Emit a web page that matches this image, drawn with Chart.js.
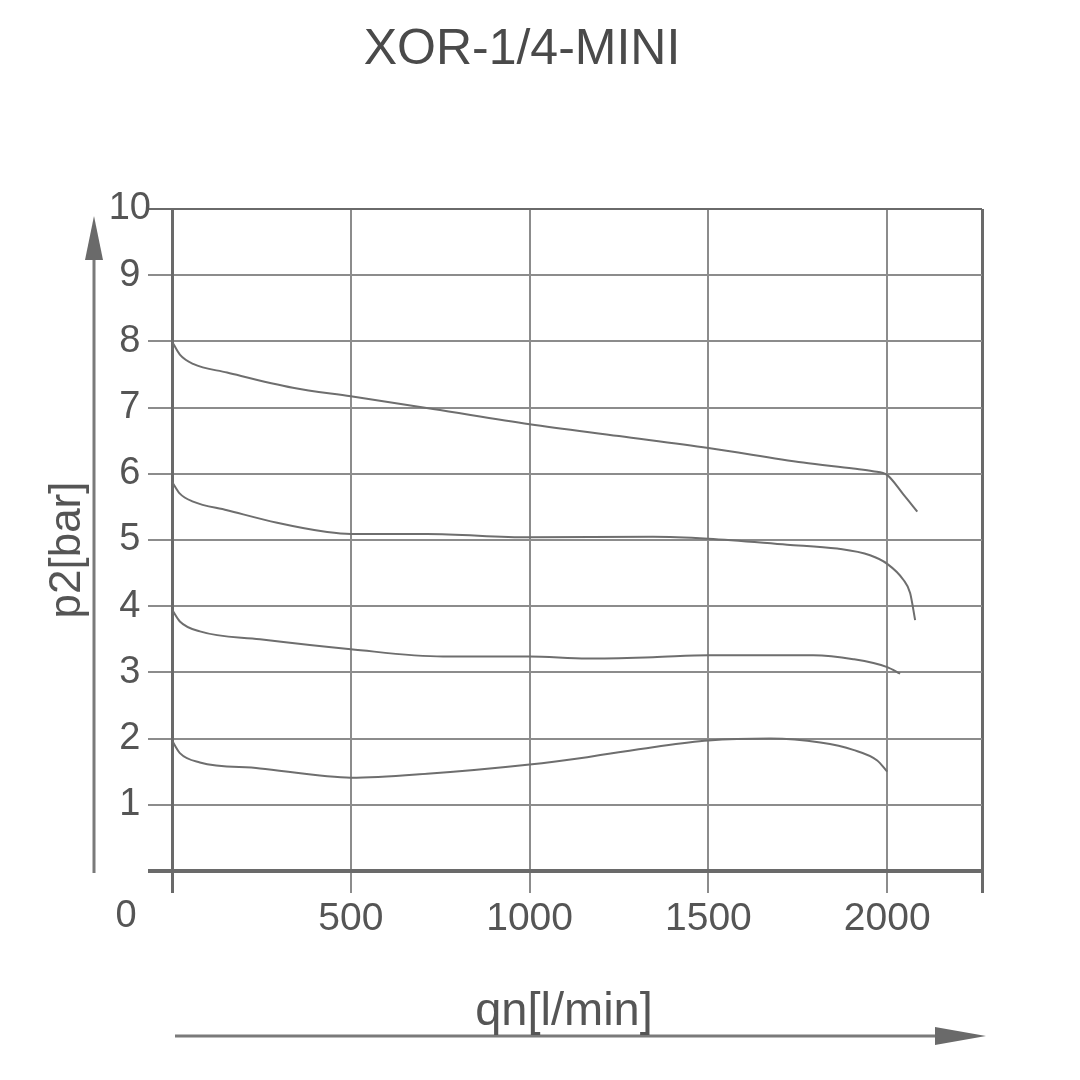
<!DOCTYPE html>
<html>
<head>
<meta charset="utf-8">
<script src="https://cdn.jsdelivr.net/npm/chart.js@4/dist/chart.umd.min.js"></script>
<style>
html,body{margin:0;padding:0;background:#fff;}
canvas{display:block;}
</style>
</head>
<body>
<canvas id="c" width="1080" height="1080"></canvas>
<script>
// ---- data ----
const chartTitle = "XOR-1/4-MINI";
const xAxisTitle = "qn[l/min]";
const yAxisTitle = "p2[bar]";
const xTickValues = [0, 500, 1000, 1500, 2000];
const xMax = 2265;
const yTickValues = [0, 1, 2, 3, 4, 5, 6, 7, 8, 9, 10];

const qn8 = [0, 22, 59, 154, 338, 500, 730, 1000, 1250, 1500, 1765, 1905, 1960, 2000, 2045, 2084];
const p2_8 = [8.0, 7.80, 7.66, 7.53, 7.30, 7.17, 6.98, 6.75, 6.57, 6.39, 6.17, 6.08, 6.04, 5.98, 5.69, 5.43];

const qn6 = [0, 22, 59, 154, 294, 434, 500, 713, 1000, 1345, 1500, 1720, 1860, 1952, 2000, 2045, 2064, 2078];
const p2_6 = [5.88, 5.70, 5.58, 5.45, 5.26, 5.12, 5.09, 5.09, 5.04, 5.05, 5.02, 4.93, 4.87, 4.77, 4.64, 4.40, 4.20, 3.79];

const qn4 = [0, 22, 78, 246, 500, 758, 1000, 1161, 1345, 1500, 1793, 1905, 2000, 2036];
const p2_4 = [3.95, 3.77, 3.62, 3.50, 3.35, 3.24, 3.24, 3.21, 3.23, 3.26, 3.26, 3.20, 3.08, 2.98];

const qn2 = [0, 22, 78, 246, 434, 500, 713, 1000, 1161, 1345, 1500, 1673, 1813, 1905, 1972, 2000];
const p2_2 = [1.97, 1.78, 1.64, 1.55, 1.43, 1.41, 1.47, 1.61, 1.72, 1.87, 1.97, 2.00, 1.94, 1.83, 1.67, 1.50];

// ---- styles ----
const FONT = "'Liberation Sans', Arial, sans-serif";
const TEXT = '#555555';
const GRID = '#8c8c8c';
const AXIS = '#6a6a6a';
const CURVE = '#6e6e6e';

function pts(xs, ys){ return xs.map((x,i)=>({x:x, y:ys[i]})); }
function ds(xs, ys){
  return {data: pts(xs, ys), borderColor: CURVE, borderWidth: 2, pointRadius: 0,
          fill: false, cubicInterpolationMode: 'monotone'};
}

const deco = {
  id: 'deco',
  beforeDraw(chart){
    const ctx = chart.ctx;
    ctx.save();
    ctx.fillStyle = '#fff';
    ctx.fillRect(0,0,chart.width,chart.height);
    ctx.restore();
  },
  afterDraw(chart){
    const ctx = chart.ctx;
    ctx.save();
    // title
    ctx.fillStyle = '#4a4a4a';
    ctx.font = "50px " + FONT;
    ctx.textAlign = 'center';
    ctx.textBaseline = 'middle';
    ctx.fillText(chartTitle, 522, 50);
    // origin label
    ctx.fillStyle = TEXT;
    ctx.font = "38px " + FONT;
    ctx.fillText(String(xTickValues[0]), 126, 917);
    // y axis arrow
    ctx.strokeStyle = '#7a7a7a';
    ctx.fillStyle = '#6a6a6a';
    ctx.lineWidth = 3;
    ctx.beginPath(); ctx.moveTo(94, 873); ctx.lineTo(94, 250); ctx.stroke();
    ctx.beginPath(); ctx.moveTo(94, 216); ctx.lineTo(103, 260); ctx.lineTo(85, 260); ctx.closePath(); ctx.fill();
    // x axis arrow
    ctx.beginPath(); ctx.moveTo(175, 1036); ctx.lineTo(945, 1036); ctx.stroke();
    ctx.beginPath(); ctx.moveTo(986, 1036); ctx.lineTo(935, 1027); ctx.lineTo(935, 1045); ctx.closePath(); ctx.fill();
    // axis titles
    ctx.fillStyle = TEXT;
    ctx.textAlign = 'center';
    ctx.textBaseline = 'middle';
    ctx.font = "47px " + FONT;
    ctx.fillText(xAxisTitle, 564, 1012);
    ctx.font = "44px " + FONT;
    ctx.translate(68, 550);
    ctx.rotate(-Math.PI/2);
    ctx.fillText(yAxisTitle, 0, 0);
    ctx.restore();
  }
};

new Chart(document.getElementById('c'), {
  type: 'line',
  data: { datasets: [ds(qn8, p2_8), ds(qn6, p2_6), ds(qn4, p2_4), ds(qn2, p2_2)] },
  options: {
    responsive: false,
    animation: false,
    layout: { padding: { top: 209, right: 98, bottom: 0, left: 0 } },
    plugins: { legend: { display: false }, tooltip: { enabled: false }, title: { display: false } },
    scales: {
      x: {
        type: 'linear', min: 0, max: xMax,
        afterBuildTicks(scale){ scale.ticks = xTickValues.concat([xMax]).map(v=>({value:v})); },
        afterFit(scale){ scale.height = 209; },
        ticks: {
          color: TEXT, font: { size: 39, family: FONT }, padding: 3,
          maxRotation: 0, autoSkip: false,
          callback(v){ return (v === 0 || v === xMax) ? '' : String(v); }
        },
        grid: {
          color: (c)=> (c.tick && (c.tick.value === 0 || c.tick.value === xMax)) ? AXIS : GRID,
          lineWidth: (c)=> (c.tick && (c.tick.value === 0 || c.tick.value === xMax)) ? 3 : 2,
          tickLength: 22, drawTicks: true
        },
        border: { display: true, color: AXIS, width: 4 }
      },
      y: {
        type: 'linear', min: 0, max: 10,
        afterBuildTicks(scale){ scale.ticks = yTickValues.map(v=>({value:v})); },
        afterFit(scale){ scale.width = 172; },
        ticks: {
          color: TEXT, font: { size: 38, family: FONT }, padding: -3, crossAlign: 'center',
          callback(v){ return v === 0 ? '' : String(v); }
        },
        grid: {
          color: (c)=> (c.tick && (c.tick.value === 0 || c.tick.value === 10)) ? AXIS : GRID,
          lineWidth: (c)=> (c.tick && c.tick.value === 0) ? 4 : 2,
          tickLength: 24, drawTicks: true
        },
        border: { display: true, color: AXIS, width: 3 }
      }
    }
  },
  plugins: [deco]
});
</script>
</body>
</html>
